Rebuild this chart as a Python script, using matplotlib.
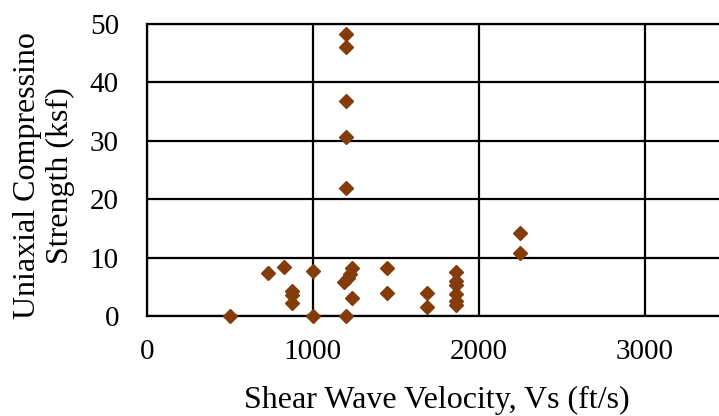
import matplotlib
matplotlib.use("Agg")
import matplotlib.pyplot as plt

plt.rcParams["font.family"] = ["Liberation Serif", "DejaVu Serif"]

# Shear wave velocity (ft/s) and unconfined compressive strength (ksf)
vs = [1200, 1200, 1200, 1200, 1200,
      2250, 2250,
      733, 828, 1000,
      1240, 1225, 1210, 1190, 1240,
      874, 874, 874,
      1448, 1448,
      1686, 1686,
      1864, 1864, 1864, 1864, 1864, 1864,
      505, 1000, 1200]
ucs = [48.3, 46.0, 36.9, 30.7, 21.9,
       14.2, 10.9,
       7.4, 8.4, 7.8,
       8.3, 7.3, 6.5, 5.8, 3.1,
       4.4, 3.6, 2.2,
       8.3, 3.9,
       3.9, 1.6,
       7.5, 6.1, 5.3, 3.8, 2.7, 1.9,
       0.0, 0.0, 0.0]

x_ticks = [0, 1000, 2000, 3000]
y_ticks = [0, 10, 20, 30, 40, 50]

fig = plt.figure(figsize=(7.19, 4.16), dpi=100)
ax = fig.add_axes([0.204, 0.2397, 0.808, 0.7026])

ax.plot(vs, ucs, linestyle="none", marker="D", markersize=7,
        color="#843C0C", clip_on=False, zorder=3)

ax.set_xlim(0, 3500)
ax.set_ylim(0, 50)
ax.set_xticks(x_ticks)
ax.set_yticks(y_ticks)
ax.grid(True, color="black", linewidth=1.6)
ax.set_axisbelow(True)
for s in ax.spines.values():
    s.set_color("black")
    s.set_linewidth(1.6)

ax.tick_params(length=0, labelsize=21)
ax.tick_params(axis="x", pad=16)
ax.tick_params(axis="y", pad=20)

ax.set_xlabel("Shear Wave Velocity, Vs (ft/s)", fontsize=23)
ax.set_ylabel("Uniaxial Compressino\nStrength (ksf)", fontsize=23,
              linespacing=1.15)
ax.xaxis.label.set_va("center")
ax.yaxis.label.set_va("center")
ax.xaxis.set_label_coords(0.5, -0.289)
ax.yaxis.set_label_coords(-0.1766, 0.48)

fig.savefig("out.png", dpi=100)
